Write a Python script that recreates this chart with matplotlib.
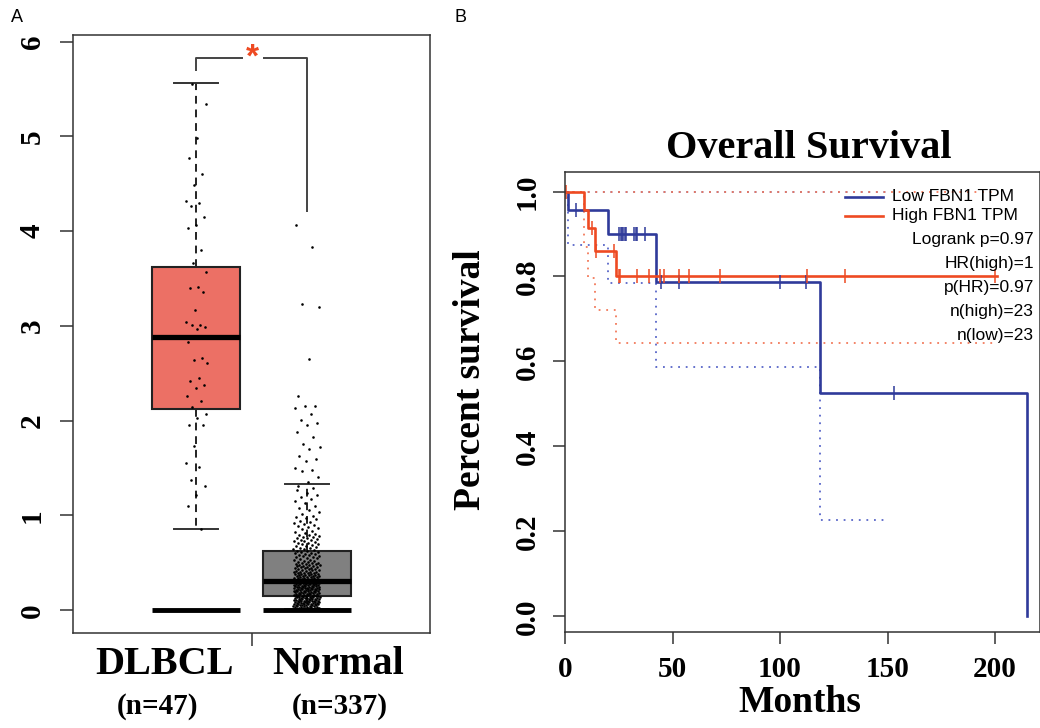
import numpy as np
import matplotlib
matplotlib.use("Agg")
import matplotlib.pyplot as plt
from matplotlib.lines import Line2D

# ---------------- Panel A data ----------------
groups = ["DLBCL", "Normal"]
group_n = ["(n=47)", "(n=337)"]
box_whislo = [0.86, 0.01]
box_q1 = [2.12, 0.15]
box_med = [2.88, 0.31]
box_q3 = [3.62, 0.62]
box_whishi = [5.56, 1.33]
baseline_values = [0.0, 0.0]

dlbcl_values = [5.55, 5.34, 4.98, 4.77, 4.60, 4.49, 4.32, 4.30, 4.27, 4.15,
                4.06, 4.03, 3.80, 3.66, 3.57, 3.41, 3.40, 3.36, 3.17, 3.04,
                3.01, 3.01, 2.99, 2.97, 2.83, 2.66, 2.64, 2.61, 2.45, 2.42,
                2.38, 2.35, 2.26, 2.21, 2.14, 2.07, 2.03, 1.96, 1.95, 1.73,
                1.55, 1.51, 1.37, 1.31, 1.22, 1.10, 0.86]
normal_upper_values = [4.06, 3.83, 3.23, 3.20, 2.65, 2.26, 2.15, 2.15, 2.13,
                       2.07, 2.01, 1.98, 1.95, 1.88, 1.83, 1.75, 1.72, 1.70,
                       1.63, 1.60, 1.58, 1.50, 1.48, 1.47, 1.41, 1.35, 1.31]
# dense part of the Normal group read as counts per value band
normal_bin_edges = [0.0, 0.05, 0.10, 0.15, 0.20, 0.31, 0.40, 0.50, 0.62, 0.80, 1.00, 1.30]
normal_bin_counts = [25, 30, 29, 24, 60, 34, 28, 22, 28, 17, 13]

sig_bracket_top = 5.83
sig_bracket_left_end = 5.69
sig_bracket_right_end = 4.20
sig_label = "*"

# ---------------- Panel B data ----------------
low_times = [0.0, 1.5, 19.8, 42.2, 118.8, 215.0]
low_surv = [1.0, 0.957, 0.900, 0.788, 0.525, 0.0]
low_censor_times = [5.1, 25.2, 26.0, 26.5, 27.1, 27.7, 28.5, 32.0, 32.8, 33.4,
                     37.3, 44.6, 53.1, 100.0, 111.9, 152.9]
low_ci_times = [0.0, 1.5, 19.8, 42.2, 118.8, 150.6]
low_ci_lower = [1.0, 0.873, 0.784, 0.588, 0.2275, 0.2275]
low_ci_upper = [1.0, 1.0, 1.0, 1.0, 1.0, 1.0]

high_times = [0.0, 9.0, 10.5, 13.9, 23.8, 201.0]
high_surv = [1.0, 0.957, 0.913, 0.859, 0.800, 0.800]
high_censor_times = [0.6, 12.7, 14.6, 22.9, 25.2, 25.7, 33.4, 39.1, 44.2, 46.0,
                      53.1, 57.8, 72.1, 112.7, 130.0, 200.1]
high_ci_times = [0.0, 9.0, 10.5, 13.9, 23.8, 199.0]
high_ci_lower = [1.0, 0.87, 0.797, 0.721, 0.643, 0.643]
high_ci_upper = [1.0, 1.0, 1.0, 1.0, 1.0, 1.0]

legend_labels = ["Low FBN1 TPM", "High FBN1 TPM"]
stat_labels = ["Logrank p=0.97", "HR(high)=1", "p(HR)=0.97", "n(high)=23", "n(low)=23"]
x_ticks_b = [0, 50, 100, 150, 200]
y_ticks_b = [0.0, 0.2, 0.4, 0.6, 0.8, 1.0]
y_ticks_a = [0, 1, 2, 3, 4, 5, 6]

# ---------------- styling ----------------
W, H = 1040, 728
SERIF = "Liberation Serif"
SANS = "Liberation Sans"
BLUE = "#2F3A9A"
RED = "#EE4A22"
BLUE_DOT = "#5866C8"
RED_DOT = "#F2795A"
BOX_RED = "#EC7065"
BOX_GRAY = "#808080"
SPINE = "#333333"

plt.rcParams["font.family"] = SERIF
fig = plt.figure(figsize=(W / 100, H / 100), dpi=100)


def fx(x):
    return x / W


def fy(y):
    return 1 - y / H


# ================= Panel A =================
axA = fig.add_axes([fx(73), fy(633), fx(430) - fx(73), fy(35) - fy(633)])
axA.set_xlim(-0.12, 3.12)
axA.set_ylim(-0.24, 6.07)

positions = [1, 2]
stats = []
for i in range(2):
    stats.append(dict(med=box_med[i], q1=box_q1[i], q3=box_q3[i],
                      whislo=box_whislo[i], whishi=box_whishi[i], fliers=[]))
bp = axA.bxp(stats, positions=positions, widths=0.8, capwidths=0.4,
             patch_artist=True, showfliers=False,
             boxprops=dict(edgecolor="#222222", linewidth=1.5),
             whiskerprops=dict(color="#222222", linewidth=1.4, linestyle=(0, (4, 3))),
             capprops=dict(color="#333333", linewidth=1.4),
             medianprops=dict(color="black", linewidth=3.8))
for patch, col in zip(bp["boxes"], [BOX_RED, BOX_GRAY]):
    patch.set_facecolor(col)
for p, b in zip(positions, baseline_values):
    axA.hlines(b, p - 0.4, p + 0.4, color="black", linewidth=3.5, zorder=3)

# points: deterministic jitter
golden = 0.6180339887


def jitter(n, width, seed):
    k = np.arange(n)
    return ((k * golden + seed) % 1.0 * 2 - 1) * width


dl = np.array(dlbcl_values)
axA.scatter(1 + jitter(len(dl), 0.10, 0.3), dl, s=3.5, color="black", zorder=4, linewidths=0)

dense = []
for lo, hi, c in zip(normal_bin_edges[:-1], normal_bin_edges[1:], normal_bin_counts):
    step = (hi - lo) / c
    dense.extend(list(lo + step * (np.arange(c) + 0.5)))
nv = np.array(list(normal_upper_values) + dense)
axA.scatter(2 + jitter(len(nv), 0.12, 0.1), nv, s=3.5, color="black", zorder=4, linewidths=0)

# significance bracket
axA.plot([1, 1, 1.42], [sig_bracket_left_end, sig_bracket_top, sig_bracket_top],
         color="#444444", lw=1.4, solid_capstyle="butt")
axA.plot([1.6, 2, 2], [sig_bracket_top, sig_bracket_top, sig_bracket_right_end],
         color="#444444", lw=1.4, solid_capstyle="butt")
axA.text(1.51, sig_bracket_top, sig_label, color=RED, fontsize=24, fontweight="bold",
         family=SANS, ha="center", va="center")

axA.set_yticks(y_ticks_a)
axA.set_yticklabels([str(v) for v in y_ticks_a], rotation=90, va="center",
                    fontsize=21, fontweight="bold")
axA.set_xticks([1.5])
axA.set_xticklabels([""])
axA.tick_params(axis="both", length=9.5, width=1.1, color=SPINE, pad=10)
for s in axA.spines.values():
    s.set_linewidth(1.1)
    s.set_color(SPINE)

for name, cx in zip(groups, [165, 338]):
    fig.text(fx(cx), fy(665), name, fontsize=29, fontweight="bold", ha="center", va="center")
for n, cx in zip(group_n, [157, 340]):
    fig.text(fx(cx), fy(707), n, fontsize=21, fontweight="bold", ha="center", va="center")

fig.text(fx(17), fy(17), "A", family=SANS, fontsize=13, ha="center", va="center")
fig.text(fx(461), fy(17), "B", family=SANS, fontsize=13, ha="center", va="center")

# ================= Panel B =================
axB = fig.add_axes([fx(565), fy(632), 1.0 - fx(565), fy(172) - fy(632)])
axB.set_xlim(0.4, 220.9)
axB.set_ylim(-0.037, 1.046)

dot = (0, (1, 3.2))
axB.step(low_ci_times, low_ci_upper, where="post", color=BLUE_DOT, lw=1.3, ls=dot)
axB.step(low_ci_times, low_ci_lower, where="post", color=BLUE_DOT, lw=1.3, ls=dot)
axB.step(high_ci_times, high_ci_upper, where="post", color=RED_DOT, lw=1.3, ls=dot)
axB.step(high_ci_times, high_ci_lower, where="post", color=RED_DOT, lw=1.3, ls=dot)

axB.step(low_times, low_surv, where="post", color=BLUE, lw=1.9)
axB.step(high_times, high_surv, where="post", color=RED, lw=1.9)


def surv_at(times, surv, t):
    idx = np.searchsorted(np.array(times), np.array(t), side="right") - 1
    return np.array(surv)[idx]


axB.plot(low_censor_times, surv_at(low_times, low_surv, low_censor_times),
         ls="none", marker="|", ms=10, mew=1.1, color=BLUE)
axB.plot(high_censor_times, surv_at(high_times, high_surv, high_censor_times),
         ls="none", marker="|", ms=10, mew=1.1, color=RED)

axB.set_xticks(x_ticks_b)
axB.set_xticklabels([str(v) for v in x_ticks_b], fontsize=21, fontweight="bold")
axB.set_yticks(y_ticks_b)
axB.set_yticklabels([f"{v:.1f}" for v in y_ticks_b], rotation=90, va="center",
                    fontsize=21, fontweight="bold")
axB.tick_params(axis="both", length=8.5, width=1.1, color=SPINE, pad=9)
for s in axB.spines.values():
    s.set_linewidth(1.1)
    s.set_color(SPINE)

fig.text(fx(809), fy(149), "Overall Survival", fontsize=29, fontweight="bold",
         ha="center", va="center")
fig.text(fx(470), fy(380), "Percent survival", fontsize=27, fontweight="bold",
         ha="center", va="center", rotation=90)
fig.text(fx(800), fy(703), "Months", fontsize=27, fontweight="bold",
         ha="center", va="center")

# legend
for lab, col, yy in zip(legend_labels, [BLUE, RED], [196.5, 215.5]):
    fig.add_artist(Line2D([fx(845), fx(883)], [fy(yy), fy(yy)], color=col, lw=1.9,
                          transform=fig.transFigure))
    fig.text(fx(892), fy(yy), lab, family=SANS, fontsize=12.5, ha="left", va="center")
for lab, yy in zip(stat_labels, [239.5, 263.5, 287.5, 311.5, 335.5]):
    fig.text(fx(1034), fy(yy), lab, family=SANS, fontsize=12.5, ha="right", va="center")

fig.savefig("out.png", dpi=100)
